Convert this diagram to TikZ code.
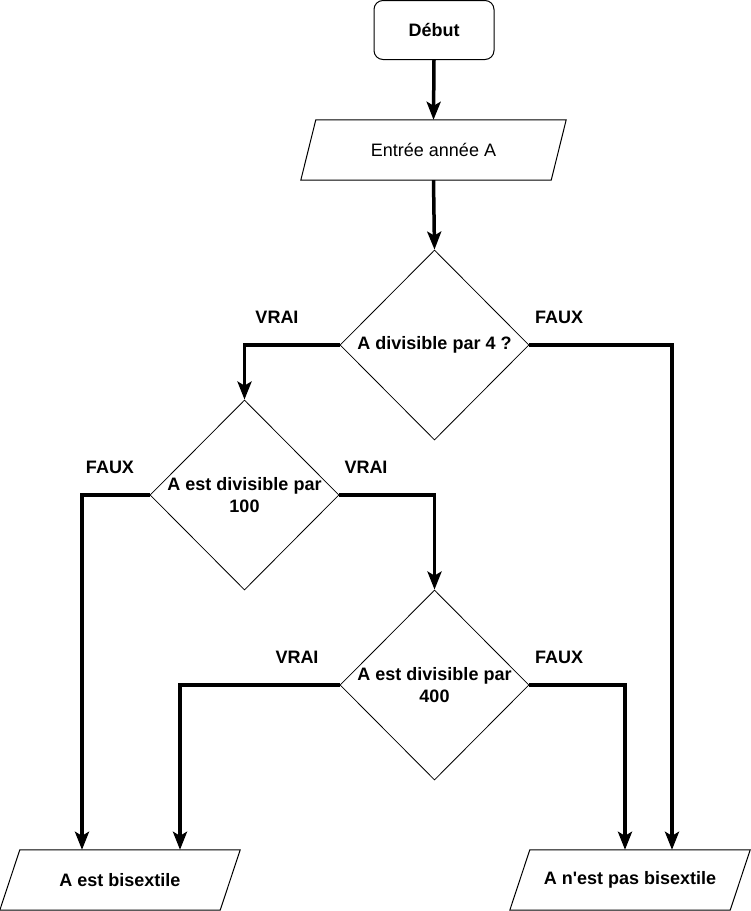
\documentclass[tikz,border=0pt]{standalone}
\usepackage{fontspec}
\setmainfont{Liberation Sans}
\usetikzlibrary{arrows.meta,shapes.geometric,positioning}

\begin{document}
\begin{tikzpicture}[
  x=1pt,y=-1pt,
  >={Stealth[length=18pt,width=14pt,inset=4pt]},
  every node/.style={font=\fontsize{18}{22}\selectfont},
  start/.style={draw,line width=1pt,rounded corners=9pt,minimum width=120pt,
    minimum height=59pt,font=\fontsize{18}{22}\selectfont\bfseries},
  io/.style={inner sep=0pt,minimum height=60pt},
  decision/.style={draw,diamond,line width=.8pt,inner sep=0pt,
    minimum width=189pt,minimum height=190pt},
  dtext/.style={align=center,font=\fontsize{18}{22}\selectfont\bfseries},
  flag/.style={font=\fontsize{18}{22}\selectfont\bfseries},
  flow/.style={->,line width=3.5pt}
]
  \useasboundingbox (0,0) rectangle (751,911);

  \node[start] (debut) at (434,30) {Début};
  \node[io,minimum width=250pt] (entree) at (433.5,150) {Entrée année A};
  \draw[line width=1pt] ([xshift=7.5pt]entree.north west) -- ([xshift=7.5pt]entree.north east)
    -- ([xshift=-7.5pt]entree.south east) -- ([xshift=-7.5pt]entree.south west) -- cycle;

  \node[decision,label={[dtext]center:A divisible par 4 ?}] (q4) at (434.5,345) {};
  \node[decision,label={[dtext]center:A est divisible par\\100}] (q100) at (244.5,495) {};
  \node[decision,label={[dtext]center:A est divisible par\\400}] (q400) at (434.5,685) {};

  \node[io,minimum width=220pt,font=\fontsize{18}{22}\selectfont\bfseries] (bis) at (120,880) {A est bisextile};
  \draw[line width=1pt] ([xshift=10pt]bis.north west) -- ([xshift=10pt]bis.north east)
    -- ([xshift=-10pt]bis.south east) -- ([xshift=-10pt]bis.south west) -- cycle;
  \node[io,minimum width=220pt,font=\fontsize{18}{22}\selectfont\bfseries] (nonbis) at (630,880) {A n\textquotesingle est pas bisextile};
  \draw[line width=1pt] ([xshift=10pt]nonbis.north west) -- ([xshift=10pt]nonbis.north east)
    -- ([xshift=-10pt]nonbis.south east) -- ([xshift=-10pt]nonbis.south west) -- cycle;

  % connectors
  \draw[flow] (debut.south) -- (entree.north);
  \draw[flow] (entree.south) -- (q4.north);
  \draw[flow] (q4.west) -| (q100.north);
  \draw[flow] (q4.east) -| ([xshift=42pt]nonbis.north);
  \draw[flow] (q100.west) -| ([xshift=-38pt]bis.north);
  \draw[flow] (q100.east) -| (q400.north);
  \draw[flow] (q400.west) -| ([xshift=60pt]bis.north);
  \draw[flow] (q400.east) -| ([xshift=-5pt]nonbis.north);

  % branch labels
  \node[flag] (v4) at (277,317) {VRAI};
  \node[flag] (f4) at (559,317) {FAUX};
  \node[flag] (f100) at (110,467) {FAUX};
  \node[flag] (v100) at (366,467) {VRAI};
  \node[flag] (v400) at (297,657) {VRAI};
  \node[flag] (f400) at (559,657) {FAUX};
\end{tikzpicture}
\end{document}
